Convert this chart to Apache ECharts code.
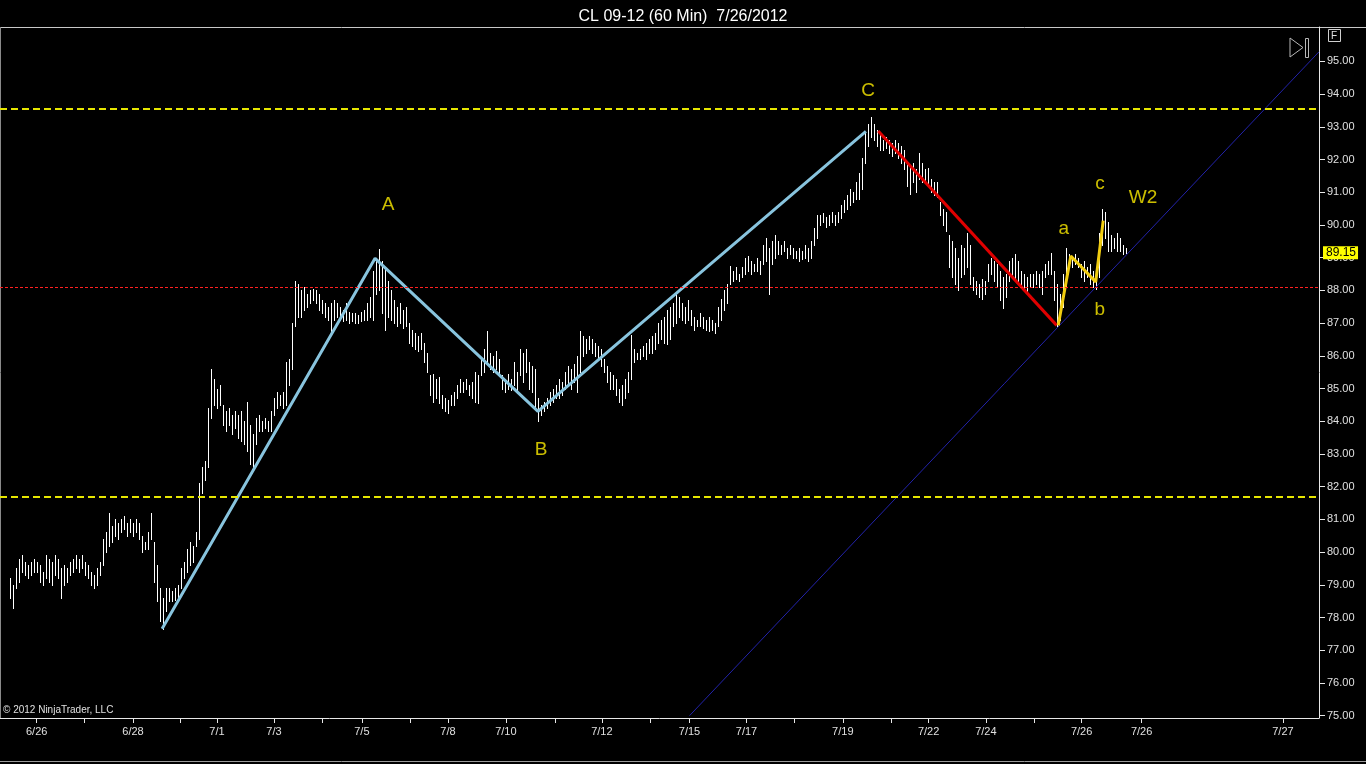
<!DOCTYPE html>
<html>
<head>
<meta charset="utf-8">
<title>CL 09-12 (60 Min)</title>
<script src="https://cdn.jsdelivr.net/npm/echarts@6.0.0/dist/echarts.min.js"></script>
<style>
  html, body { margin: 0; padding: 0; background: #000; }
  #main { width: 1366px; height: 764px; }
</style>
</head>
<body>
<div id="main"></div>
<script>
// hourly bars, one per index
var highs = [
  79.2, 79.0, 79.5, 79.8, 79.9, 79.7, 79.6, 79.7, 79.8, 79.7, 79.6,
  79.4, 79.9, 79.8, 79.7, 79.9, 79.8, 79.5, 79.6, 79.5,
  79.7, 79.8, 79.9, 79.8, 79.9, 79.7, 79.6, 79.4, 79.3, 79.5, 79.7,
  80.4, 80.6, 81.2,
  80.8, 81.0, 80.9, 81.0, 81.1, 80.9, 81.0, 80.9, 81.0, 80.9,
  80.5, 80.3, 80.6, 81.2,
  80.3, 79.6, 78.9, 78.6, 78.9, 78.9, 78.8, 78.9, 79.0,
  79.5, 79.7, 80.1, 80.3, 80.2, 80.6, 82.1, 82.6, 82.8, 84.4, 85.6, 85.3, 85.0, 85.1,
  84.5, 84.3, 84.4, 84.2, 84.3, 84.2, 84.3, 84.0, 84.6,
  83.9, 83.6, 84.1, 84.2, 84.0, 84.1, 84.0, 84.3,
  84.7, 84.9, 84.8, 84.9, 85.8, 85.9, 87.0, 88.3, 88.2, 88.0, 88.1,
  87.9, 88.0, 88.05, 88.0, 87.9,
  87.7, 87.6, 87.5, 87.6, 87.7, 87.6, 87.5, 87.4, 87.6,
  87.35, 87.3, 87.3, 87.25, 87.35, 87.4, 87.6, 87.8, 88.6, 88.9, 89.27,
  88.9, 88.7, 88.3, 88.0, 87.7, 87.5, 87.6, 87.4, 87.5,
  87.0, 86.8, 86.7, 86.6, 86.7, 86.4, 86.1,
  85.4, 85.45, 85.3, 85.35, 84.8, 84.7, 84.65, 84.8, 84.9,
  85.1, 85.3, 85.2, 85.3, 85.1, 85.2, 85.5, 85.4,
  85.9, 86.2, 86.75, 86.1, 86.0, 86.15, 85.9,
  85.4, 85.3, 85.45, 85.3, 85.8, 85.5,
  86.2, 86.1, 86.2, 85.8, 85.7, 85.6, 84.7, 84.5, 84.6,
  84.7, 84.9, 85.0, 85.1, 85.3, 85.2, 85.5, 85.7, 85.6, 85.75, 86.0, 86.75, 86.6,
  86.5, 86.6, 86.5, 86.4, 86.3, 86.2, 85.9,
  85.7, 85.5, 85.4, 85.3, 85.0, 85.1, 85.3, 85.5, 86.65,
  86.2, 86.1, 86.2, 86.3, 86.4, 86.5, 86.6, 86.7,
  87.0, 87.1, 87.2, 87.4, 87.5, 87.6, 87.9, 87.8,
  87.6, 87.5, 87.7, 87.4, 87.2, 87.1, 87.3, 87.2, 87.1, 87.2, 87.1, 87.0,
  87.5, 87.75, 88.0, 88.2, 88.75, 88.6, 88.7, 88.5, 88.7, 89.0, 89.05,
  88.9, 88.8, 89.0, 88.9, 89.4, 89.6, 89.3, 89.5, 89.7,
  89.5, 89.4, 89.5, 89.3, 89.4, 89.3, 89.2, 89.3, 89.2, 89.4, 89.3, 89.5, 89.9, 90.3,
  90.3, 90.35, 90.25, 90.3, 90.4, 90.3, 90.4, 90.6, 90.75, 90.9, 91.1, 91.0, 91.3,
  91.6, 92.05, 92.8, 93.1, 93.3, 93.1, 92.9, 92.8,
  92.6, 92.7, 92.6, 92.5, 92.6, 92.5, 92.4, 92.3,
  91.9, 91.8, 91.9, 91.7, 92.2, 91.9, 91.7, 91.75, 91.4, 91.3, 91.3,
  90.7, 90.5, 90.4, 89.7, 89.5, 89.3, 89.0, 89.4, 89.3, 89.75, 89.4,
  88.4, 88.3, 88.2, 88.35, 88.3, 88.8, 89.0, 88.9, 88.8, 88.6, 88.4, 88.5,
  88.9, 89.0, 89.1, 88.9, 88.6, 88.5, 88.4, 88.5, 88.5, 88.6, 88.5, 88.6,
  88.8, 88.9, 89.15, 88.6, 88.2, 87.9, 88.5, 89.3,
  89.1, 89.05, 89.1, 89.0, 88.8, 88.9, 88.7, 88.8, 88.6, 88.5,
  89.75, 90.5, 90.4, 90.1, 89.7, 89.6, 89.75, 89.6, 89.4, 89.3
];
var lows = [
  78.6, 78.3, 78.9, 79.1, 79.4, 79.3, 79.2, 79.3, 79.4, 79.4, 79.1,
  79.0, 79.2, 79.1, 79.0, 79.3, 79.2, 78.6, 79.0, 79.1,
  79.3, 79.4, 79.5, 79.4, 79.5, 79.3, 79.2, 79.0, 78.9, 79.0, 79.3,
  79.6, 80.0, 80.2,
  80.3, 80.5, 80.4, 80.6, 80.7, 80.5, 80.6, 80.5, 80.6, 80.4,
  80.0, 80.1, 80.1, 80.4,
  79.1, 78.5, 77.9, 77.65, 78.2, 78.5, 78.5, 78.55, 78.6,
  78.9, 79.2, 79.4, 79.6, 79.7, 80.2, 80.4, 81.8, 82.2, 82.6, 84.1, 84.5, 84.4, 84.5,
  83.9, 83.7, 83.9, 83.6, 83.8, 83.5, 83.4, 83.3, 83.1,
  82.7, 82.6, 83.3, 83.7, 83.7, 83.8, 83.7, 83.7,
  84.2, 84.4, 84.5, 84.4, 84.5, 85.1, 85.6, 86.9, 87.2, 87.2, 87.4,
  87.5, 87.6, 87.7, 87.6, 87.4,
  87.3, 87.2, 87.1, 86.75, 87.1, 87.2, 87.1, 87.05, 87.1,
  87.0, 87.05, 87.0, 87.0, 87.05, 87.1, 87.1, 87.2, 87.1, 87.9, 88.0,
  87.3, 86.8, 87.2, 87.1, 87.0, 86.9, 87.0, 86.85, 86.9,
  86.4, 86.3, 86.2, 86.15, 86.2, 85.8, 85.5,
  84.8, 84.6, 84.7, 84.55, 84.4, 84.3, 84.25, 84.5, 84.5,
  84.7, 84.9, 84.9, 85.0, 84.8, 84.7, 84.6, 84.55,
  85.4, 85.5, 85.8, 85.6, 85.5, 85.6, 85.45,
  85.0, 84.9, 85.0, 84.95, 85.1, 84.95,
  85.4, 85.2, 85.5, 85.0, 84.9, 84.4, 84.0, 84.2, 84.3,
  84.4, 84.5, 84.6, 84.7, 84.7, 84.8, 85.0, 85.1, 85.0, 85.2, 84.9, 85.5, 86.0,
  86.1, 86.2, 86.1, 86.0, 85.9, 85.7, 85.5,
  85.2, 85.0, 85.0, 84.8, 84.6, 84.5, 84.7, 84.9, 85.3,
  85.8, 85.9, 85.9, 86.0, 85.9, 86.1, 86.1, 86.2,
  86.4, 86.5, 86.4, 86.35, 86.5, 86.9, 87.0, 87.2,
  87.1, 87.0, 87.1, 86.95, 86.8, 86.9, 86.9, 86.85, 86.8, 86.75, 86.8, 86.7,
  86.9, 87.1, 87.4, 87.6, 88.2, 88.3, 88.35, 88.3, 88.4, 88.5, 88.6,
  88.5, 88.6, 88.6, 88.5, 88.8, 88.9, 87.9, 88.8, 89.0,
  89.1, 89.1, 89.2, 89.0, 89.1, 89.0, 89.0, 88.9, 88.95, 89.0, 88.9, 89.0, 89.4, 89.6,
  90.0, 90.1, 89.95, 90.0, 90.1, 90.0, 90.1, 90.2, 90.4, 90.5, 90.6, 90.7, 90.8,
  90.8, 91.1, 91.9, 92.4, 92.7, 92.6, 92.4, 92.3,
  92.3, 92.35, 92.2, 92.1, 92.2, 92.05, 91.9, 91.7,
  91.2, 90.95, 91.3, 91.0, 91.4, 91.3, 91.3, 91.25, 91.0, 90.9, 90.85,
  90.3, 90.0, 89.8, 88.7, 88.4, 88.2, 88.0, 88.4, 88.5, 88.7, 88.2,
  88.0, 87.9, 87.8, 87.75, 87.9, 88.3, 88.5, 88.3, 88.1, 87.7, 87.45, 87.8,
  88.3, 88.4, 88.3, 88.2, 88.1, 88.0, 87.95, 88.1, 88.1, 88.2, 88.1, 87.9,
  88.4, 88.5, 88.5, 87.7, 86.9, 87.1, 87.5, 88.1,
  88.7, 88.7, 88.8, 88.7, 88.4, 88.3, 88.4, 88.2, 88.1, 88.05,
  88.4, 89.4, 89.6, 89.2, 89.2, 89.3, 89.2, 89.2, 89.1, 89.15
];
var lastPrice = 89.15;

// date ticks (bar index) and which of them carry a label
var tickIdx = [8.9, 24.9, 41, 56.7, 69, 88, 104, 117.3, 133.3, 146, 165.3, 181.7, 197.3,
  213.3, 226.5, 245.5, 261.5, 277.6, 293.6, 306.2, 325.3, 341.3, 357.2, 377.2, 424.3];
var labelIdx = [8.9, 41, 69, 88, 117.3, 146, 165.3, 197.3, 226.5, 245.5, 277.6, 306.2, 325.3, 357.2, 377.2, 424.3];
var labelText = ['6/26', '6/28', '7/1', '7/3', '7/5', '7/8', '7/10', '7/12', '7/15', '7/17',
  '7/19', '7/22', '7/24', '7/26', '7/26', '7/27'];
var priceTicks = [75, 76, 77, 78, 79, 80, 81, 82, 83, 84, 85, 86, 87, 88, 89, 90, 91, 92, 93, 94, 95];

// drawn objects: wave ABC, decline, abc correction, trendline, levels
var waveX = [50.7, 121.7, 176, 285.3];
var waveY = [77.66, 88.98, 84.3, 92.86];
var dropX = [289.4, 348.9];
var dropY = [92.87, 86.93];
var abcX = [349.4, 353.6, 361.9, 364.4];
var abcY = [86.93, 89.05, 88.26, 90.13];
var trendX = [226.5, 436.3];
var trendY = [75.0, 95.29];
var levelHigh = 93.56;
var levelLow = 81.69;
var levelRed = 88.11;

var tagNames = ['A', 'B', 'C', 'a', 'b', 'c', 'W2'];
var tagX = [126, 177, 286, 351.3, 363.3, 363.3, 377.7];
var tagY = [90.61, 83.14, 94.09, 89.87, 87.42, 91.25, 90.82];

function pairs(xs, ys) {
  return xs.map(function (x, i) { return [x, ys[i]]; });
}

function renderBar(params, api) {
  var hi = api.coord([api.value(0), api.value(1)]);
  var lo = api.coord([api.value(0), api.value(2)]);
  var x = Math.round(hi[0]) + 0.5;
  return {
    type: 'line',
    shape: { x1: x, y1: Math.round(hi[1]), x2: x, y2: Math.round(lo[1]) + 1 },
    style: { stroke: '#ffffff', lineWidth: 1 }
  };
}

var chart = echarts.init(document.getElementById('main'));

var option = {
  backgroundColor: '#000000',
  animation: false,
  textStyle: { fontFamily: 'Liberation Sans, Arial, sans-serif' },
  title: {
    text: 'CL 09-12 (60 Min)  7/26/2012',
    left: 'center',
    top: 4,
    textStyle: { color: '#ffffff', fontSize: 16, fontWeight: 'normal' }
  },
  grid: { left: 0, right: 47, top: 27, bottom: 46 },
  xAxis: {
    type: 'value',
    min: -3.33,
    max: 436.33,
    axisLine: { onZero: false, lineStyle: { color: '#e8e8e8', width: 1 } },
    axisTick: { customValues: tickIdx, length: 5, lineStyle: { color: '#e8e8e8' } },
    axisLabel: {
      customValues: labelIdx,
      color: '#e0e0e0',
      fontSize: 11,
      margin: 8,
      formatter: function (v) {
        for (var i = 0; i < labelIdx.length; i++) {
          if (Math.abs(labelIdx[i] - v) < 0.01) return labelText[i];
        }
        return '';
      }
    },
    splitLine: { show: false }
  },
  yAxis: {
    type: 'value',
    position: 'right',
    min: 74.93,
    max: 96.05,
    axisLine: { show: true, onZero: false, lineStyle: { color: '#e8e8e8', width: 1 } },
    axisTick: { show: true, customValues: priceTicks, length: 6, lineStyle: { color: '#e8e8e8' } },
    axisLabel: {
      customValues: priceTicks,
      color: '#e0e0e0',
      fontSize: 11,
      margin: 8,
      formatter: function (v) { return v.toFixed(2); }
    },
    splitLine: { show: false }
  },
  series: [
    {
      type: 'custom',
      name: 'bars',
      renderItem: renderBar,
      encode: { x: 0, y: [1, 2] },
      data: highs.map(function (h, i) { return [i, h, lows[i]]; }),
      clip: true,
      silent: true,
      markLine: {
        silent: true,
        symbol: 'none',
        data: [
          { yAxis: levelHigh, lineStyle: { color: '#e6e600', width: 2, type: [7, 4] }, label: { show: false } },
          { yAxis: levelLow, lineStyle: { color: '#e6e600', width: 2, type: [7, 4] }, label: { show: false } },
          { yAxis: levelRed, lineStyle: { color: '#ff2020', width: 1.2, type: [3, 2] }, label: { show: false } },
          {
            yAxis: lastPrice,
            lineStyle: { color: 'rgba(0,0,0,0)', width: 0 },
            label: {
              show: true,
              position: 'end',
              distance: 4,
              formatter: lastPrice.toFixed(2),
              color: '#000000',
              backgroundColor: '#ffff00',
              fontSize: 12,
              padding: [1, 2, 0, 3]
            }
          }
        ]
      }
    },
    {
      type: 'line',
      name: 'trend',
      data: pairs(trendX, trendY),
      showSymbol: false,
      lineStyle: { color: '#2222aa', width: 1 },
      silent: true
    },
    {
      type: 'line',
      name: 'wave',
      data: pairs(waveX, waveY),
      showSymbol: false,
      lineStyle: { color: '#88c4de', width: 3 },
      silent: true
    },
    {
      type: 'line',
      name: 'drop',
      data: pairs(dropX, dropY),
      showSymbol: false,
      lineStyle: { color: '#e00000', width: 3 },
      silent: true
    },
    {
      type: 'line',
      name: 'abc',
      data: pairs(abcX, abcY),
      showSymbol: false,
      lineStyle: { color: '#f0cc10', width: 3 },
      silent: true
    },
    {
      type: 'scatter',
      name: 'tags',
      symbolSize: 0,
      silent: true,
      data: tagNames.map(function (n, i) { return { name: n, value: [tagX[i], tagY[i]] }; }),
      label: {
        show: true,
        position: 'inside',
        formatter: '{b}',
        color: '#ffee00',
        fontSize: 19
      }
    }
  ],
  graphic: [
    { type: 'line', shape: { x1: 0, y1: 27.5, x2: 1366, y2: 27.5 }, style: { stroke: '#c8c8c8', lineWidth: 1 } },
    { type: 'line', shape: { x1: 0, y1: 761.5, x2: 1366, y2: 761.5 }, style: { stroke: '#9a9a9a', lineWidth: 1 } },
    { type: 'line', shape: { x1: 0.5, y1: 27, x2: 0.5, y2: 718 }, style: { stroke: '#8a8a8a', lineWidth: 1 } },
    {
      type: 'text', left: 3, top: 705,
      style: { text: '\u00a9 2012 NinjaTrader, LLC', fill: '#e0e0e0', fontSize: 10, fontFamily: 'Liberation Sans, Arial' }
    },
    {
      type: 'rect', shape: { x: 1328.5, y: 29.5, width: 12, height: 12 },
      style: { fill: 'none', stroke: '#d0d0d0', lineWidth: 1 }
    },
    {
      type: 'text', left: 1331, top: 31,
      style: { text: 'F', fill: '#e0e0e0', fontSize: 10, fontFamily: 'Liberation Sans, Arial' }
    },
    {
      type: 'polygon', shape: { points: [[1290, 38], [1303, 47.5], [1290, 57]] },
      style: { fill: 'none', stroke: '#b8b8b8', lineWidth: 1 }
    },
    {
      type: 'rect', shape: { x: 1305.5, y: 38.5, width: 3, height: 19 },
      style: { fill: 'none', stroke: '#b8b8b8', lineWidth: 1 }
    }
  ]
};

chart.setOption(option);
</script>
</body>
</html>
